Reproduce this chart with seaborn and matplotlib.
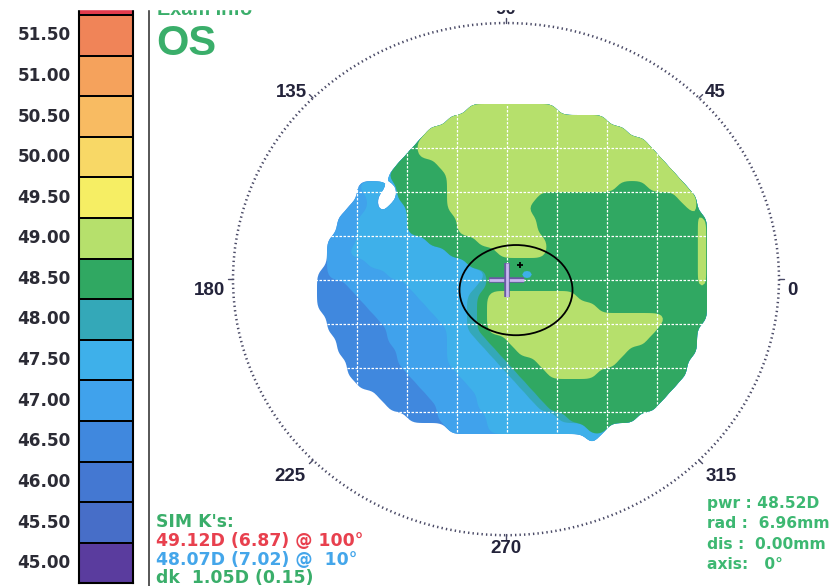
import numpy as np
import pandas as pd
import matplotlib
matplotlib.use("Agg")
import matplotlib.pyplot as plt
import matplotlib.patheffects as pe
from matplotlib.colors import ListedColormap
from matplotlib.patches import Ellipse, Rectangle
from matplotlib.lines import Line2D
import seaborn as sns

# ---------------- data ----------------
# dioptric colour scale (top to bottom)
scale_values = [52.00, 51.50, 51.00, 50.50, 50.00, 49.50, 49.00, 48.50,
                48.00, 47.50, 47.00, 46.50, 46.00, 45.50, 45.00]
scale_colors = ["#e23a4c", "#f08458", "#f5a25c", "#f8bb62", "#f8d866",
                "#f6ee64", "#b6e06c", "#30a862", "#34a8b8", "#3eb0ea",
                "#40a2ec", "#4088de", "#4478d2", "#476ec8", "#5a3c9e"]
# the top band runs off the sheet, so its value is not printed
scale_labels = [""] + [f"{v:.2f}" for v in scale_values[1:]]

# band letters used in the topography grid -> corneal power (D)
band_power = {"D": 46.5, "B": 47.0, "L": 47.5, "T": 48.0, "G": 48.5, "Y": 49.0}

# topography grid, run-length encoded rows from top to bottom ("." = no data)
map_rows = [
    "41.",
    "16. 9Y 16.",
    "14. 16Y 11.",
    "12. 20Y 9.",
    "11. 23Y 7.",
    "10. 1G 24Y 6.",
    "9. 4G 23Y 5.",
    "8. 6G 23Y 4.",
    "5. 3L 1. 5G 17Y 3G 4Y 3.",
    "5. 1B 1L 2. 5G 9Y 14G 2Y 2.",
    "4. 2B 1L 1. 2L 4G 8Y 16G 1Y 2.",
    "3. 2B 5L 5G 8Y 16G 1Y 1.",
    "3. 2B 5L 5G 8Y 16G 1Y 1.",
    "2. 3B 7L 5G 7Y 15G 1Y 1.",
    "2. 2B 10L 5G 5Y 15G 1Y 1.",
    "2. 4B 10L 23G 1Y 1.",
    "1. 1D 6B 10L 3G 2L 16G 1Y 1.",
    "1. 3D 6B 7L 1T 21G 1Y 1.",
    "1. 4D 6B 5L 1T 1G 9Y 13G 1.",
    "1. 5D 6B 4L 1T 1G 11Y 11G 1.",
    "2. 5D 6B 3L 1T 1G 18Y 4G 1.",
    "2. 6D 6B 2L 1T 1G 17Y 4G 2.",
    "3. 5D 6B 3L 1T 2G 14Y 5G 2.",
    "3. 6D 5B 4L 1T 2G 11Y 7G 2.",
    "4. 5D 5B 5L 1T 3G 8Y 7G 3.",
    "4. 6D 5B 5L 1T 3G 5Y 9G 3.",
    "5. 6D 5B 5L 1T 15G 4.",
    "7. 5D 5B 5L 1T 13G 5.",
    "8. 5D 4B 6L 1T 11G 6.",
    "10. 3D 5B 7L 1T 7G 8.",
    "14. 4B 10L 2G 11.",
    "28. 1L 12.",
    "41.",
]

# pupil outline (centre and full axes, mm)
pupil_center = (0.18, -0.23)
pupil_size = (2.26, 2.05)

# meridian labels
ring_angles = [0, 45, 90, 135, 180, 225, 270, 315]

exam_eye = "OS"
sim_k_title = "SIM K's:"
sim_k_steep = "49.12D (6.87) @ 100°"
sim_k_flat = "48.07D (7.02) @  10°"
sim_k_delta = "dk  1.05D (0.15)"
cursor_lines = ["pwr : 48.52D", "rad :  6.96mm", "dis :  0.00mm", "axis:   0°"]

# ---------------- geometry / style ----------------
W, H = 837, 586
ORIGIN_PX = (507, 280)           # map origin in pixels
PX_PER_U, PX_PER_V = 50.0, 44.0  # grid spacing in pixels per mm
map_u0, map_du = -3.9, 0.2
map_v0, map_dv = 4.125, 0.25
SUB = 4                          # sub-steps per grid cell for band outlines
SOFT = 0.5                       # outline softening, in grid cells
ring_center = (-0.02, 0.02)
ring_radii = (5.46, 5.82)
label_offsets = {0: (9.4, -7.9), 45: (11.5, 4.3), 90: (0, 9.4), 135: (-15.8, 4.3),
                 180: (-16.6, -7.9), 225: (-16.6, -11.5), 270: (0, -9.4),
                 315: (15.8, -11.5)}

GREEN = "#3aae6a"
RED = "#e8404e"
BLUE = "#44a6ea"
DARK = "#23233a"

sns.set_theme(style="white")
plt.rcParams["font.family"] = ["DejaVu Sans"]

fig = plt.figure(figsize=(W / 100, H / 100), dpi=100)
fig.patch.set_facecolor("white")


def fx(px):
    return px / W


def fy(py):
    return 1 - py / H


# ---------------- colour scale column ----------------
band_h = 40.6
scale_top = 15 - band_h
scale_bottom = scale_top + band_h * len(scale_values)
cax = fig.add_axes([fx(79), fy(scale_bottom), fx(133) - fx(79),
                    (scale_bottom - scale_top) / H])
scale_df = pd.DataFrame({"band": np.arange(len(scale_values))},
                        index=scale_labels)
sns.heatmap(scale_df, ax=cax, cmap=ListedColormap(scale_colors),
            vmin=-0.5, vmax=len(scale_values) - 0.5, cbar=False,
            linewidths=1.3, linecolor="black",
            xticklabels=False, yticklabels=True)
cax.set_xlabel("")
cax.set_ylabel("")
cax.tick_params(axis="y", length=0, pad=6, labelsize=12.2,
                labelcolor="#2b2b35", labelrotation=0)
for t in cax.get_yticklabels():
    t.set_fontweight("bold")
for s in cax.spines.values():
    s.set_visible(True)
    s.set_color("black")
    s.set_linewidth(1.5)

# ---------------- topography map ----------------
ax = fig.add_axes([fx(150), 0, 1 - fx(150), 1])
ax.set_xlim((150 - ORIGIN_PX[0]) / PX_PER_U, (W - ORIGIN_PX[0]) / PX_PER_U)
ax.set_ylim((ORIGIN_PX[1] - H) / PX_PER_V, ORIGIN_PX[1] / PX_PER_V)
ax.axis("off")


def expand(row):
    out = ""
    for tok in row.split():
        out += tok[-1] * int(tok[:-1])
    return out


def resample(a, k, axis):
    """Linear resampling of a band mask onto a finer lattice."""
    a = np.moveaxis(a, axis, 0)
    t = (np.arange(k) / k)[:, None, None]
    steps = a[:-1][None] * (1 - t) + a[1:][None] * t
    fine = np.concatenate([steps.transpose(1, 0, 2).reshape(-1, a.shape[1]),
                           a[-1:]], axis=0)
    return np.moveaxis(fine, 0, axis)


def soften(a, sigma, axis):
    """Gaussian softening so stair-stepped outlines render as curves."""
    r = int(np.ceil(3 * sigma))
    x = np.arange(-r, r + 1)
    kern = np.exp(-0.5 * (x / sigma) ** 2)
    kern /= kern.sum()
    return np.apply_along_axis(lambda m: np.convolve(m, kern, mode="same"),
                               axis, a)


grid = np.array([list(expand(r)) for r in map_rows])
nrow, ncol = grid.shape
u = map_u0 + map_du * np.arange((ncol - 1) * SUB + 1) / SUB
v = map_v0 - map_dv * np.arange((nrow - 1) * SUB + 1) / SUB
power = np.full(grid.shape, np.nan)
for code, p in band_power.items():
    power[grid == code] = p
inside = ~np.isnan(power)
filled = np.nan_to_num(power, nan=-1.0)
color_of = dict(zip(scale_values, scale_colors))

# stacked bands: each layer covers every node at or above its power
for p in sorted(set(band_power.values())):
    layer = (inside & (filled >= p - 1e-6)).astype(float)
    layer = resample(resample(layer, SUB, 0), SUB, 1)
    layer = soften(soften(layer, SOFT * SUB, 0), SOFT * SUB, 1)
    ax.contourf(u, v, layer, levels=[0.5, 2.0], colors=[color_of[p]],
                zorder=1, antialiased=True)

# 1 mm grid
for g in range(-3, 4):
    ax.plot([g, g], [-4, 4], color="white", lw=0.9, ls=(0, (2, 1.2)), zorder=3)
    ax.plot([-4, 4], [g, g], color="white", lw=0.9, ls=(0, (2, 1.2)), zorder=3)

# pupil outline
ax.add_patch(Ellipse(pupil_center, pupil_size[0], pupil_size[1], fill=False,
                     ec="black", lw=1.3, zorder=5))

# centre cross
cross_fx = [pe.withStroke(linewidth=4.0, foreground="#6a5aa4")]
ax.plot([-0.35, 0.35], [0, 0], color="#c8b8f0", lw=2.0, zorder=6,
        path_effects=cross_fx, solid_capstyle="butt")
ax.plot([0, 0], [-0.39, 0.39], color="#c8b8f0", lw=2.0, zorder=6,
        path_effects=cross_fx, solid_capstyle="butt")
ax.plot([0.26], [0.34], marker="+", ms=5, mew=1.3, color="black", zorder=6)

# meridian ring
ax.add_patch(Ellipse(ring_center, 2 * ring_radii[0], 2 * ring_radii[1],
                     fill=False, ec="#4a4a66", lw=1.8, ls=(0, (0.55, 1.25)),
                     zorder=4))
for a in ring_angles:
    c, s = np.cos(np.radians(a)), np.sin(np.radians(a))
    x0, y0 = ring_center[0] + ring_radii[0] * c, ring_center[1] + ring_radii[1] * s
    ax.plot([x0, x0 + 0.1 * c], [y0, y0 + 0.11 * s], color="#4a4a66",
            lw=1.0, zorder=4)
    ax.annotate(str(a), xy=(x0, y0), xytext=label_offsets[a],
                textcoords="offset points", ha="center", va="center",
                fontfamily="Liberation Sans", fontweight="bold",
                fontsize=13.5, color=DARK, zorder=7)

# ---------------- text blocks ----------------
fig.text(fx(157), fy(15), "Exam Info", color=GREEN, fontfamily="Liberation Sans",
         fontweight="bold", fontsize=14.3, va="baseline")
fig.text(fx(156), fy(55), exam_eye, color=GREEN, fontfamily="Liberation Sans",
         fontweight="bold", fontsize=30, va="baseline")

sim_lines = [(sim_k_title, GREEN, 527), (sim_k_steep, RED, 546),
             (sim_k_flat, BLUE, 565), (sim_k_delta, GREEN, 583)]
for txt, col, base in sim_lines:
    fig.text(fx(156), fy(base), txt, color=col, fontweight="bold",
             fontsize=12.4, va="baseline")

for txt, base in zip(cursor_lines, [508, 528, 549, 569]):
    fig.text(fx(707), fy(base), txt, color="#3db872", fontweight="bold",
             fontsize=11.2, va="baseline")

# divider between scale and map
fig.add_artist(Line2D([fx(149), fx(149)], [0, 1], color="#3a3a3a", lw=1.2))
# blank scan margin along the top edge
fig.add_artist(Rectangle((0, fy(9)), 1, 9 / H, transform=fig.transFigure,
                         color="white", zorder=20))

fig.savefig("out.png", dpi=100, facecolor="white")
